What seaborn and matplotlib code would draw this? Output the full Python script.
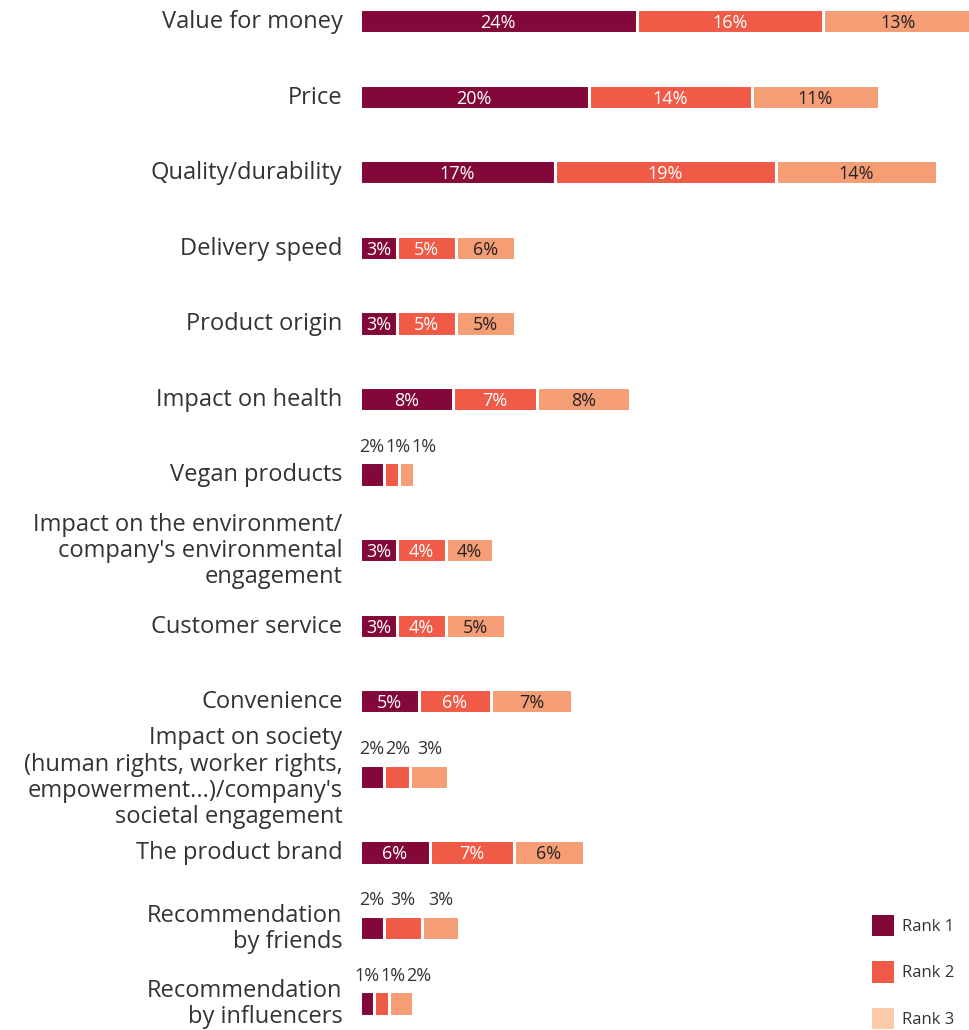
import pandas as pd
import seaborn as sns
import matplotlib.pyplot as plt
from matplotlib.patches import Patch

# categories (top to bottom)
categories = [
    "Value for money",
    "Price",
    "Quality/durability",
    "Delivery speed",
    "Product origin",
    "Impact on health",
    "Vegan products",
    "Impact on the environment/\ncompany's environmental\nengagement",
    "Customer service",
    "Convenience",
    "Impact on society\n(human rights, worker rights,\nempowerment...)/company's\nsocietal engagement",
    "The product brand",
    "Recommendation\nby friends",
    "Recommendation\nby influencers",
]

# segment widths (%)
rank1 = [24.1, 19.9, 17.0, 3.2, 3.2, 8.1, 2.1, 3.2, 3.2, 5.1, 2.1, 6.1, 2.1, 1.2]
rank2 = [16.2, 14.2, 19.2, 5.2, 5.2, 7.3, 1.3, 4.3, 4.3, 6.3, 2.3, 7.3, 3.3, 1.3]
rank3 = [13.0, 11.1, 14.0, 5.1, 5.1, 8.1, 1.3, 4.1, 5.1, 7.1, 3.3, 6.1, 3.2, 2.1]

# labels as printed on the chart
label1 = ["24", "20", "17", "3", "3", "8", "2", "3", "3", "5", "2", "6", "2", "1"]
label2 = ["16", "14", "19", "5", "5", "7", "1", "4", "4", "6", "2", "7", "3", "1"]
label3 = ["13", "11", "14", "6", "5", "8", "1", "4", "5", "7", "3", "6", "3", "2"]

rank_names = ["Rank 1", "Rank 2", "Rank 3"]
colors = ["#82083a", "#f05b48", "#f59e75"]
legend_colors = ["#82083a", "#f05b48", "#fccaa8"]
text_col = "#333333"

df = pd.DataFrame({"category": categories, "r1": rank1, "r2": rank2, "r3": rank3})
df["c2"] = df["r1"] + df["r2"]
df["c3"] = df["c2"] + df["r3"]

sns.set_theme(style="white")
plt.rcParams["font.family"] = ["Open Sans", "DejaVu Sans"]

fig = plt.figure(figsize=(9.7, 10.3), dpi=100)
ax = fig.add_axes([362 / 970, 0, 608 / 970, 1])

bar_w = 0.32
# stacked bars by layering cumulative totals
for col, c in zip(["c3", "c2", "r1"], colors[::-1]):
    sns.barplot(data=df, x=col, y="category", color=c, width=bar_w,
                saturation=1, edgecolor="white", linewidth=2.2, ax=ax,
                orient="h")

ax.set_xlim(0.18, 53.1)
ax.set_ylim(13.35, -0.28)
ax.set_xlabel("")
ax.set_ylabel("")
ax.set_xticks([])
ax.set_yticks(range(len(categories)))
ax.set_yticklabels([])
ax.tick_params(axis="y", length=0)
sns.despine(ax=ax, left=True, bottom=True)

# category labels, right-aligned left of the bars
for i, name in enumerate(categories):
    ax.annotate(name, xy=(0, i), xycoords=("axes fraction", "data"),
                xytext=(-14, -0.6), textcoords="offset points",
                ha="right", va="center", fontsize=17, color=text_col,
                linespacing=1.12, annotation_clip=False)

# value labels
for i in range(len(categories)):
    vals = [rank1[i], rank2[i], rank3[i]]
    labs = [label1[i], label2[i], label3[i]]
    starts = [0, rank1[i], rank1[i] + rank2[i]]
    centers = [s + v / 2 for s, v in zip(starts, vals)]
    if min(vals) < 2.5:
        prev = -10
        for j in range(3):
            x = max(centers[j], prev + 2.25)
            prev = x
            ax.text(x, i - 0.37, labs[j] + "%", ha="center", va="center",
                    fontsize=13, color=text_col)
    else:
        for j in range(3):
            ax.text(centers[j], i + 0.025, labs[j] + "%", ha="center",
                    va="center", fontsize=13,
                    color="white" if j < 2 else "#222222")

handles = [Patch(facecolor=c, edgecolor="none") for c in legend_colors]
fig.legend(handles, rank_names, loc="lower left",
           bbox_to_anchor=(872 / 970, 1 / 1030), frameon=False,
           borderpad=0, borderaxespad=0, handlelength=1.3, handleheight=1.6,
           handletextpad=0.5, labelspacing=1.5, fontsize=12,
           labelcolor=text_col)

fig.savefig("out.png", dpi=100)
